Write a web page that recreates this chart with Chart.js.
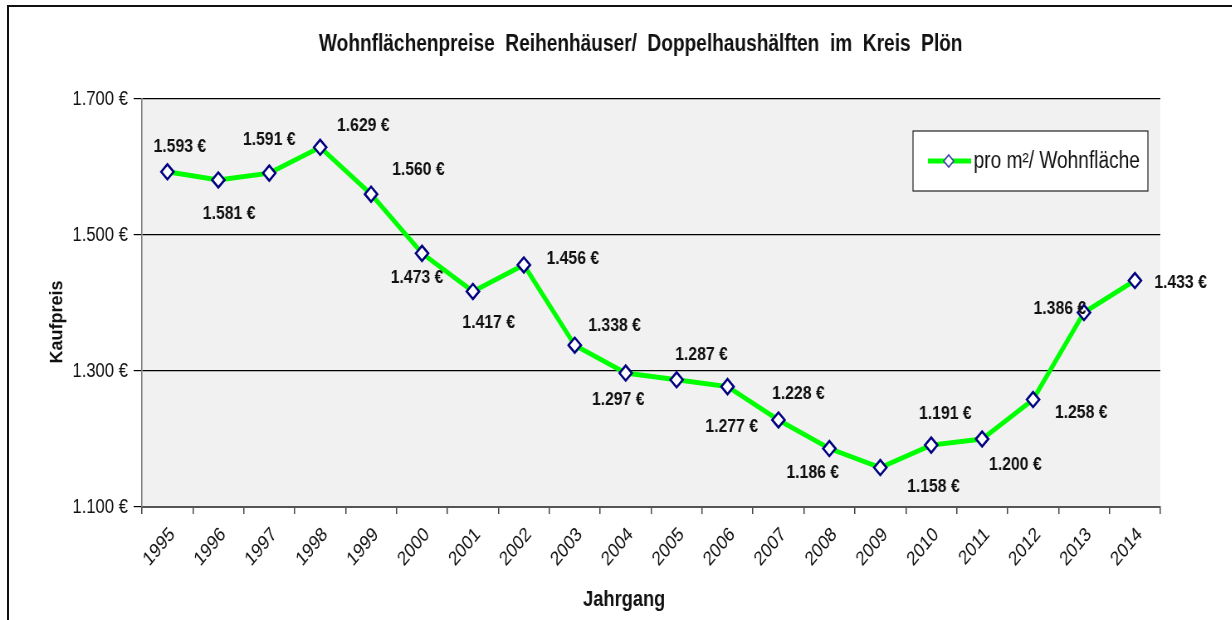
<!DOCTYPE html>
<html lang="de">
<head>
<meta charset="utf-8">
<title>Wohnflächenpreise Reihenhäuser/ Doppelhaushälften im Kreis Plön</title>
<script src="https://cdn.jsdelivr.net/npm/chart.js@4/dist/chart.umd.min.js"></script>
<style>
  html, body { margin: 0; padding: 0; background: #fff; overflow: hidden; width: 1232px; height: 620px; }
  #frame { position: absolute; left: 7px; top: 5px; width: 1240px; height: 630px;
           border-left: 2px solid #111; border-top: 2px solid #111; }
  /* the drawing is squeezed horizontally, like the original export */
  #wrap { position: absolute; left: 0; top: 0; width: 1484px; height: 620px;
          transform: scaleX(0.83); transform-origin: 0 0; }
</style>
</head>
<body>
<div id="frame"></div>
<div id="wrap"><canvas id="chart" width="1484" height="620"></canvas></div>
<script>
const years = ['1995', '1996', '1997', '1998', '1999', '2000', '2001', '2002', '2003', '2004',
               '2005', '2006', '2007', '2008', '2009', '2010', '2011', '2012', '2013', '2014'];
const prices = [1593, 1581, 1591, 1629, 1560, 1473, 1417, 1456, 1338, 1297,
                1287, 1277, 1228, 1186, 1158, 1191, 1200, 1258, 1386, 1433];
const yTicks = [1100, 1300, 1500, 1700];

const chartTitle = 'Wohnflächenpreise  Reihenhäuser/  Doppelhaushälften  im  Kreis  Plön';
const seriesName = 'pro m²/ Wohnfläche';
const xTitle = 'Jahrgang';
const yTitle = 'Kaufpreis';

// where each value label sits relative to its point
const labelShift = [
  [15, -25], [13, 34], [0, -33], [52, -22], [57, -24], [-6, 24], [19, 31], [59, -6], [48, -19], [-9, 27],
  [30, -25], [5, 40], [24, -26], [-20, 24], [64, 19], [17, -31], [40, 26], [58, 13], [-29, -4], [55, 2]
];

const SQUEEZE = 0.83;
const FONT = "'Liberation Sans', Arial, sans-serif";
const GREEN = '#00ff00';
const NAVY = '#000080';

function euro(v) {
  const s = String(v);
  return s.slice(0, -3) + '.' + s.slice(-3) + ' €';
}

const decor = {
  id: 'decor',
  beforeDraw(chart) {
    const { ctx, chartArea: a } = chart;
    ctx.save();
    ctx.fillStyle = '#f1f1f1';
    ctx.fillRect(a.left, a.top, a.right - a.left, a.bottom - a.top);
    ctx.restore();
  },
  afterDatasetsDraw(chart) {
    const { ctx } = chart;
    const pts = chart.getDatasetMeta(0).data;
    ctx.save();
    ctx.font = 'bold 19px ' + FONT;
    ctx.fillStyle = '#111';
    ctx.textAlign = 'center';
    ctx.textBaseline = 'middle';
    pts.forEach((p, i) => {
      const [dx, dy] = labelShift[i];
      ctx.fillText(euro(prices[i]), p.x + dx, p.y + dy);
    });
    ctx.restore();
  },
  afterDraw(chart) {
    const { ctx } = chart;
    ctx.save();
    ctx.fillStyle = '#111';
    ctx.textAlign = 'center';
    ctx.textBaseline = 'middle';

    ctx.font = 'bold 23px ' + FONT;
    ctx.fillText(chartTitle, 772, 45);

    ctx.font = 'bold 22px ' + FONT;
    ctx.fillText(xTitle, 752, 600);

    // vertical axis title keeps its natural width after the squeeze
    ctx.save();
    ctx.translate(69, 322);
    ctx.scale(1 / SQUEEZE, 1);
    ctx.rotate(-Math.PI / 2);
    ctx.font = 'bold 18px ' + FONT;
    ctx.fillText(yTitle, 0, 0);
    ctx.restore();

    // legend box
    const bx = 1100, by = 131, bw = 283, bh = 60;
    ctx.fillStyle = '#fff';
    ctx.fillRect(bx, by, bw, bh);
    ctx.strokeStyle = '#222';
    ctx.lineWidth = 1.2;
    ctx.strokeRect(bx, by, bw, bh);
    const ly = by + bh / 2;
    ctx.strokeStyle = GREEN;
    ctx.lineWidth = 5;
    ctx.beginPath();
    ctx.moveTo(1118, ly);
    ctx.lineTo(1170, ly);
    ctx.stroke();
    ctx.fillStyle = '#fff';
    ctx.strokeStyle = '#4040a8';
    ctx.lineWidth = 1.6;
    ctx.beginPath();
    ctx.moveTo(1137, ly);
    ctx.lineTo(1143, ly - 6);
    ctx.lineTo(1149, ly);
    ctx.lineTo(1143, ly + 6);
    ctx.closePath();
    ctx.fill();
    ctx.stroke();
    ctx.fillStyle = '#111';
    ctx.textAlign = 'left';
    ctx.font = '23px ' + FONT;
    ctx.fillText(seriesName, 1173, ly + 1);
    ctx.restore();
  }
};

new Chart(document.getElementById('chart'), {
  type: 'line',
  data: {
    labels: years,
    datasets: [{
      label: seriesName,
      data: prices,
      borderColor: GREEN,
      borderWidth: 5,
      tension: 0,
      pointStyle: 'rectRot',
      pointRadius: 7.5,
      pointBorderWidth: 2.5,
      pointBorderColor: NAVY,
      pointBackgroundColor: '#fff'
    }]
  },
  options: {
    responsive: false,
    animation: false,
    devicePixelRatio: 1,
    layout: { padding: { top: 99, right: 86, left: 0, bottom: 0 } },
    plugins: {
      legend: { display: false },
      title: { display: false },
      tooltip: { enabled: false }
    },
    scales: {
      x: {
        offset: true,
        afterFit(scale) { scale.height = 113; },
        grid: { offset: true, drawOnChartArea: false, drawTicks: true, tickLength: 7, color: '#444', lineWidth: 1.5 },
        border: { color: '#555', width: 2 },
        ticks: {
          minRotation: 45, maxRotation: 45, padding: 9, labelOffset: 6,
          color: '#111', font: { family: FONT, size: 20 }
        }
      },
      y: {
        min: 1100, max: 1700,
        afterFit(scale) { scale.width = 171; },
        afterBuildTicks(scale) { scale.ticks = yTicks.map(v => ({ value: v })); },
        grid: { color: '#000', lineWidth: 1.2, tickLength: 10 },
        border: { color: '#777', width: 1.5 },
        ticks: {
          padding: 7, color: '#111',
          font: { family: FONT, size: 20 },
          callback: v => euro(v)
        }
      }
    }
  },
  plugins: [decor]
});
</script>
</body>
</html>
